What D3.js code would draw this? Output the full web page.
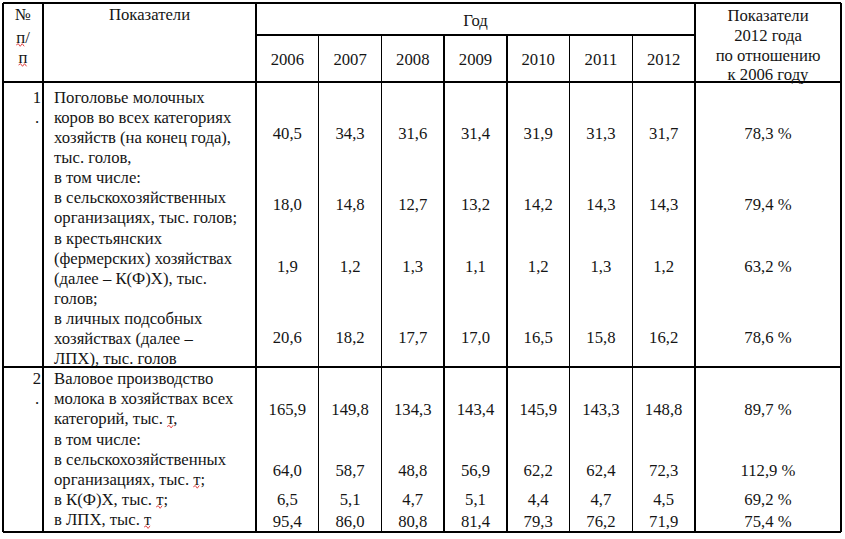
<!DOCTYPE html>
<html><head><meta charset="utf-8">
<script src="https://cdn.jsdelivr.net/npm/d3@7"></script>
<style>
@font-face{font-family:TableSerif;src:local("Liberation Serif"),local("LiberationSerif"),local("Times New Roman"),local("DejaVu Serif");}
</style>
</head>
<body style="margin:0"><svg id="c" width="845" height="539"></svg>
<script>
// ---- data ----
const years = ["2006","2007","2008","2009","2010","2011","2012"];
const headerLabel = "Показатели";
const headerYear = "Год";
const headerRatio = ["Показатели","2012 года","по отношению","к 2006 году"];
const headerNum = ["№","п/","п"];
const section1Text = ["Поголовье молочных","коров во всех категориях","хозяйств (на конец года),","тыс. голов,","в том числе:","в сельскохозяйственных","организациях, тыс. голов;","в крестьянских","(фермерских) хозяйствах","(далее – К(Ф)Х), тыс.","голов;","в личных подсобных","хозяйствах (далее –","ЛПХ), тыс. голов"];
const section2Text = ["Валовое производство","молока в хозяйствах всех","категорий, тыс. т,","в том числе:","в сельскохозяйственных","организациях, тыс. т;","в К(Ф)Х, тыс. т;","в ЛПХ, тыс. т"];
const cowsTotal  = ["40,5","34,3","31,6","31,4","31,9","31,3","31,7"];
const cowsAgro   = ["18,0","14,8","12,7","13,2","14,2","14,3","14,3"];
const cowsFarm   = ["1,9","1,2","1,3","1,1","1,2","1,3","1,2"];
const cowsHouse  = ["20,6","18,2","17,7","17,0","16,5","15,8","16,2"];
const milkTotal  = ["165,9","149,8","134,3","143,4","145,9","143,3","148,8"];
const milkAgro   = ["64,0","58,7","48,8","56,9","62,2","62,4","72,3"];
const milkFarm   = ["6,5","5,1","4,7","5,1","4,4","4,7","4,5"];
const milkHouse  = ["95,4","86,0","80,8","81,4","79,3","76,2","71,9"];
const ratios = ["78,3 %","79,4 %","63,2 %","78,6 %","89,7 %","112,9 %","69,2 %","75,4 %"];
const seriesRows = [cowsTotal,cowsAgro,cowsFarm,cowsHouse,milkTotal,milkAgro,milkFarm,milkHouse];

// ---- layout ----
const rowAnchor = [1.8,5.35,8.4,11.95,15.55,18.55,20.0,21.1]; // line index anchors
const squiggles = [[16,"т"],[19,"т"],[20,"т"],[21,"т"]]; // line index, char (spell-check marks)
const L = 3, R = 841, T = 3, B = 532;
const xNum = 43, xYearStart = 256, xYearEnd = 695;
const yYearRow = 35, yHeadBottom = 82, ySec1Bottom = 367;
const FONT = "Liberation Serif, TableSerif, Times New Roman, Tinos, FreeSerif, DejaVu Serif, serif";
const fs = 16.7;

const svg = d3.select("#c");
const x = d3.scaleBand().domain(years).range([xYearStart, xYearEnd]);
const yLine = d3.scaleLinear().domain([0,1]).range([97,117.1]);

svg.append("rect").attr("width",845).attr("height",539).attr("fill","#fff");
const g = svg.append("g");
const lines = [
  [L,T,R,T],[L,B,R,B],[L,T,L,B],[R,T,R,B],
  [xNum,T,xNum,B],[xYearStart,T,xYearStart,B],[xYearEnd,T,xYearEnd,B],
  [xYearStart,yYearRow,xYearEnd,yYearRow],
  [L,yHeadBottom,R,yHeadBottom],[L,ySec1Bottom,R,ySec1Bottom]
];
years.slice(1).forEach(yr=>lines.push([x(yr),yYearRow,x(yr),B]));
g.selectAll("line").data(lines).join("line")
  .attr("x1",d=>d[0]).attr("y1",d=>d[1]).attr("x2",d=>d[2]).attr("y2",d=>d[3])
  .attr("stroke","#000").attr("stroke-width",1.4).attr("shape-rendering","crispEdges");

function txt(str,xx,yy,anchor){
  return svg.append("text").attr("x",xx).attr("y",yy).attr("dy","0.35em")
    .attr("font-family",FONT).attr("fill","#151515")
    .attr("text-anchor",anchor||"middle").attr("font-size",fs).text(str);
}
function squiggle(x0,x1,yy){
  let d="M"+x0+","+yy; let up=true;
  for(let xx=x0+2;xx<=x1+0.1;xx+=2){d+="L"+xx+","+(yy+(up?-1.3:1.3));up=!up;}
  svg.append("path").attr("d",d).attr("fill","none").attr("stroke","#d33").attr("stroke-width",0.9);
}
// header
const numY=[14,37,57];
headerNum.forEach((s,i)=>{
  const t=txt(s,23,numY[i]);
  if(i>0){
    const w=t.node().getSubStringLength(0,1); const x0=23-t.node().getComputedTextLength()/2;
    squiggle(x0,x0+w,numY[i]+8);
  }
});
txt(headerLabel,149.5,14);
txt(headerYear,(xYearStart+xYearEnd)/2,20);
years.forEach(yr=>txt(yr,x(yr)+x.bandwidth()/2,59));
const ratioY=[15,35,55,74];
headerRatio.forEach((s,i)=>txt(s,(xYearEnd+R)/2,ratioY[i]));

// section labels
txt("1",41,yLine(0),"end"); txt(".",37,yLine(1),"middle");
txt("2",41,yLine(14),"end"); txt(".",37,yLine(15),"middle");
const allText = section1Text.concat(section2Text);
const labelNodes = allText.map((s,i)=>txt(s,54,yLine(i),"start"));
squiggles.forEach(([li,ch])=>{
  const n=labelNodes[li].node(); const s=allText[li];
  const idx=s.lastIndexOf(ch);
  const x0=54+n.getSubStringLength(0,idx); const w=n.getSubStringLength(idx,1);
  squiggle(x0,x0+w,yLine(li)+8);
});

// values
seriesRows.forEach((vals,ri)=>{
  vals.forEach((v,ci)=>txt(v,x(years[ci])+x.bandwidth()/2,yLine(rowAnchor[ri])));
  txt(ratios[ri],(xYearEnd+R)/2,yLine(rowAnchor[ri]));
});
</script></body></html>
